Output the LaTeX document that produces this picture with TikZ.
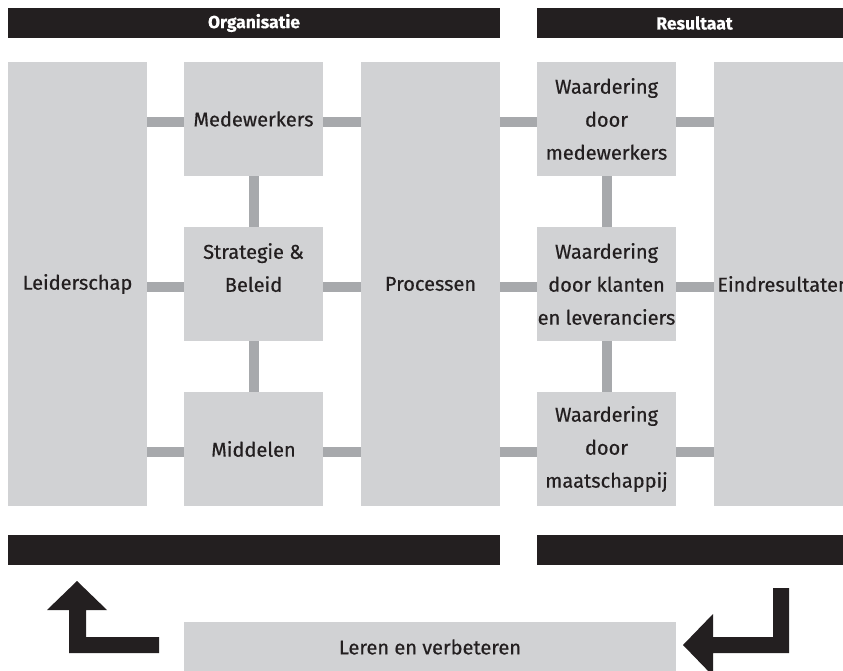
\documentclass[tikz,border=0pt]{standalone}
\usepackage{fontspec}
\setmainfont{Fira Sans}[FakeBold=0.5]
\newfontfamily\headfont{Fira Sans}[UprightFont=*, BoldFont=* Bold]
\definecolor{boxgray}{HTML}{D1D2D4}
\definecolor{conngray}{HTML}{A7A9AC}
\definecolor{barblack}{HTML}{231F20}
\tikzset{
  box/.style={rectangle, fill=boxgray, inner sep=0pt, text=barblack, align=center,
    font=\fontsize{20}{33}\selectfont},
  small/.style={box, minimum width=139pt, minimum height=114pt},
  tall/.style={box, minimum width=139pt, minimum height=444pt},
  bar/.style={rectangle, fill=barblack, inner sep=0pt, minimum height=30pt, text=white,
    font=\bfseries\fontsize{17.5}{20}\selectfont},
  conn/.style={draw=conngray, line width=10pt},
  bigarrow/.style={fill=barblack, draw=none}
}
\begin{document}
\begin{tikzpicture}[x=1pt,y=-1pt]
\useasboundingbox (0,0) rectangle (843,671);
\clip (0,0) rectangle (843,671);
% header bars
\node[bar, minimum width=492pt] (org) at (254,23) {Organisatie};
\node[bar, minimum width=315pt] (res) at (694.5,23) {Resultaat};
% boxes
\node[tall] (lead) at (77.5,284) {Leiderschap};
\node[small] (med) at (253.5,119) {Medewerkers};
\node[small] (strat) at (253.5,284) {Strategie \&\\Beleid\\\phantom{X}};
\node[small] (mid) at (253.5,449) {Middelen};
\node[tall] (proc) at (430.5,284) {Processen};
\node[small] (wmed) at (606.5,119) {Waardering\\door\\medewerkers};
\node[small] (wkl) at (606.5,284) {Waardering\\door klanten\\en leveranciers};
\node[small] (wmt) at (606.5,449) {Waardering\\door\\maatschappij};
\node[tall] (eind) at (783.5,284) {Eindresultaten};
% bottom bars
\node[bar, minimum width=492pt] (borg) at (254,550) {};
\node[bar, minimum width=315pt] (bres) at (694.5,550) {};
\node[box, minimum width=492pt, minimum height=50pt] (leren) at (430,647) {Leren en verbeteren};
% connectors
\foreach \r in {med,strat,mid}{
  \draw[conn] ([yshift=-3pt]\r.west) -- ([yshift=-3pt]lead.east |- \r.west);
  \draw[conn] ([yshift=-3pt]\r.east) -- ([yshift=-3pt]proc.west |- \r.east);
}
\foreach \r in {wmed,wkl,wmt}{
  \draw[conn] ([yshift=-3pt]\r.west) -- ([yshift=-3pt]proc.east |- \r.west);
  \draw[conn] ([yshift=-3pt]\r.east) -- ([yshift=-3pt]eind.west |- \r.east);
}
\draw[conn] (med.south) -- (strat.north);
\draw[conn] (strat.south) -- (mid.north);
\draw[conn] (wmed.south) -- (wkl.north);
\draw[conn] (wkl.south) -- (wmt.north);
% big arrows
\fill[bigarrow] (77,581) -- (107,610) -- (86,610) -- (86,637) -- (159,637) -- (159,653)
  -- (69,653) -- (69,610) -- (47,610) -- cycle;
\fill[bigarrow] (789,588) -- (789,653) -- (713,653) -- (713,676) -- (683,645) -- (713,614)
  -- (713,637) -- (773,637) -- (773,588) -- cycle;
\end{tikzpicture}
\end{document}
